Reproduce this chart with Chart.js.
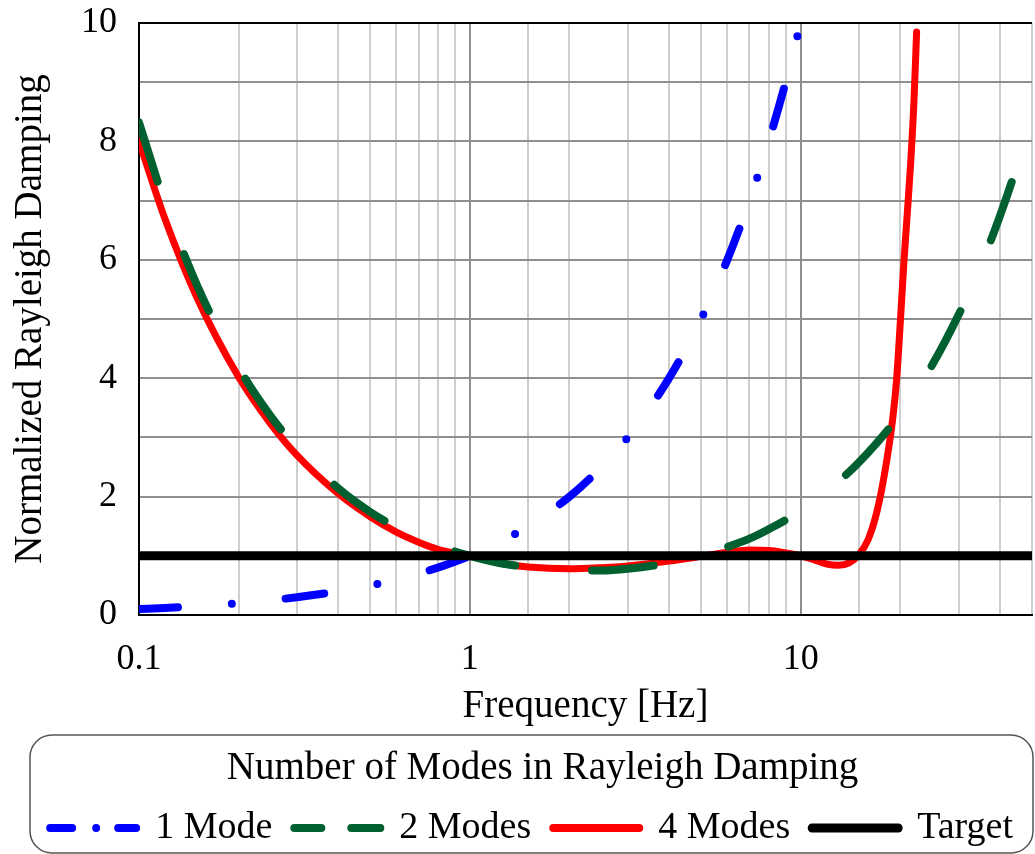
<!DOCTYPE html>
<html><head><meta charset="utf-8">
<script src="https://cdn.jsdelivr.net/npm/chart.js@4"></script>
<style>html,body{margin:0;padding:0;background:#fff}</style>
</head><body>
<canvas id="c" width="1035" height="854"></canvas>
<script>
// ---- data ----
const seriesLabels = ['1 Mode', '2 Modes', '4 Modes', 'Target'];

const mode1Freq = [0.1,0.12,0.15,0.2,0.25,0.3,0.4,0.5,0.6,0.7,0.8,0.9,1,1.2,1.5,2,2.5,3,4,5,6,7,8,9,10];
const mode1Vals = [0.1,0.12,0.15,0.2,0.25,0.3,0.4,0.5,0.6,0.7,0.8,0.9,1,1.2,1.5,2,2.5,3,4,5,6,7,8,9,10];

const mode2Freq = [0.1,0.12,0.15,0.2,0.25,0.3,0.4,0.5,0.6,0.7,0.8,1,1.25,1.5,2,2.5,3,4,5,6,7,8,10,12,15,20,25,30,35,40,45,50];
const mode2Vals = [8.32,6.94,5.56,4.18,3.36,2.82,2.14,1.74,1.48,1.30,1.17,1.00,0.87,0.81,0.75,0.75,0.78,0.88,1.01,1.15,1.29,1.45,1.76,2.09,2.58,3.40,4.23,5.07,5.90,6.74,7.58,8.42];

const mode4Freq = [0.1,0.12,0.15,0.2,0.25,0.3,0.4,0.5,0.6,0.7,0.8,1,1.25,1.5,2,2.5,3,4,5,6,7,8,9,10,11,12,13,14,15,16,17,18,19,19.5,20,20.5,21,21.5,22,22.4];
const mode4Vals = [8.00,6.68,5.35,4.02,3.23,2.70,2.05,1.66,1.40,1.23,1.11,1.00,0.87,0.81,0.78,0.80,0.83,0.91,0.99,1.06,1.10,1.09,1.05,1.00,0.93,0.86,0.84,0.88,1.02,1.28,1.75,2.45,3.35,4.00,4.95,5.95,6.80,7.65,8.70,9.85];

const targetFreq = [0.1, 50];
const targetVals = [1, 1];

const xLabeled = [0.1, 1, 10];

// ---- helpers ----
const pts = (xs, ys) => xs.map((x, i) => ({x, y: ys[i]}));
const isDecade = v => { const l = Math.log10(v); return Math.abs(l - Math.round(l)) < 1e-6; };

const SERIF = "'Liberation Serif', 'Times New Roman', serif";
Chart.defaults.font.family = SERIF;
Chart.defaults.color = '#000';

const PAD = { left: 20, right: 0, top: 23, bottom: -3 };
const PLOT_BOTTOM = 615;

const colors = ['#0000ff', '#006030', '#ff0000', '#000000'];
const legendDashes = [[22, 24, 0, 22, 20, 10], [27, 30, 29, 10], [], []];
const legendWidths = [8, 8, 8, 9];

const frame = {
  id: 'frame',
  beforeDatasetsDraw(chart) {
    const {ctx, chartArea: a} = chart;
    ctx.save();
    ctx.strokeStyle = '#000';
    ctx.lineWidth = 2;
    ctx.beginPath();
    ctx.moveTo(a.left - 1, a.top);
    ctx.lineTo(a.right, a.top);
    ctx.stroke();
    ctx.restore();
  },
  afterDraw(chart) {
    const ctx = chart.ctx;
    const x = 30, y = 735, w = 1003, h = 118, r = 22;
    ctx.save();
    ctx.strokeStyle = '#555';
    ctx.lineWidth = 1.5;
    ctx.beginPath();
    ctx.moveTo(x + r, y);
    ctx.lineTo(x + w - r, y);
    ctx.arcTo(x + w, y, x + w, y + r, r);
    ctx.lineTo(x + w, y + h - r);
    ctx.arcTo(x + w, y + h, x + w - r, y + h, r);
    ctx.lineTo(x + r, y + h);
    ctx.arcTo(x, y + h, x, y + h - r, r);
    ctx.lineTo(x, y + r);
    ctx.arcTo(x, y, x + r, y, r);
    ctx.closePath();
    ctx.stroke();
    ctx.restore();
  }
};

new Chart(document.getElementById('c'), {
  type: 'line',
  data: {
    datasets: [
      { label: seriesLabels[0], data: pts(mode1Freq, mode1Vals), borderColor: colors[0], backgroundColor: colors[0],
        borderWidth: 8, borderDash: [39, 54, 0, 54], borderCapStyle: 'round', cubicInterpolationMode: 'monotone', order: 1 },
      { label: seriesLabels[1], data: pts(mode2Freq, mode2Vals), borderColor: colors[1], backgroundColor: colors[1],
        borderWidth: 8, borderDash: [62, 77], borderCapStyle: 'round', cubicInterpolationMode: 'monotone', order: 2 },
      { label: seriesLabels[2], data: pts(mode4Freq, mode4Vals), borderColor: colors[2], backgroundColor: colors[2],
        borderWidth: 7, borderCapStyle: 'round', cubicInterpolationMode: 'monotone', order: 3 },
      { label: seriesLabels[3], data: pts(targetFreq, targetVals), borderColor: colors[3], backgroundColor: colors[3],
        borderWidth: 9, borderCapStyle: 'round', order: 0 }
    ]
  },
  options: {
    responsive: false,
    animation: false,
    devicePixelRatio: 1,
    layout: { padding: PAD },
    elements: { point: { radius: 0, hoverRadius: 0 } },
    plugins: {
      tooltip: { enabled: false },
      legend: {
        position: 'bottom',
        align: 'end',
        title: { display: true, text: 'Number of Modes in Rayleigh Damping', color: '#000',
                 font: { size: 39, family: SERIF }, padding: { top: 6, bottom: -9 } },
        labels: {
          usePointStyle: true, pointStyle: 'line', pointStyleWidth: 86, padding: 22,
          color: '#000', font: { size: 38, family: SERIF },
          generateLabels(chart) {
            return chart.data.datasets.map((ds, i) => ({
              text: ds.label, fillStyle: ds.borderColor, strokeStyle: ds.borderColor, fontColor: '#000',
              lineWidth: legendWidths[i], lineDash: legendDashes[i], lineDashOffset: 0,
              lineCap: 'round', lineJoin: 'round', pointStyle: 'line', rotation: 0,
              hidden: false, datasetIndex: i
            }));
          }
        }
      }
    },
    scales: {
      x: {
        type: 'logarithmic', min: 0.1, max: 50,
        afterFit(scale) {
          scale.paddingLeft = 0;
          scale.paddingRight = 3;
          scale.height = scale.chart.height - PAD.bottom - scale.chart.legend.height - PLOT_BOTTOM;
        },
        grid: {
          drawTicks: false,
          color: c => (c.tick && isDecade(c.tick.value)) ? '#8f8f8f' : '#cfcfcf',
          lineWidth: 2
        },
        border: { color: '#000', width: 2 },
        ticks: {
          autoSkip: false, maxRotation: 0, padding: 23, color: '#000', font: { size: 36, family: SERIF },
          callback(v) { return xLabeled.some(t => Math.abs(t - v) < 1e-9) ? String(v) : ''; }
        },
        title: { display: true, text: 'Frequency [Hz]', color: '#000', font: { size: 39, family: SERIF },
                 padding: { top: 0, bottom: 13 } }
      },
      y: {
        min: 0, max: 10,
        afterFit(scale) {
          scale.paddingTop = 0;
          scale.paddingBottom = 0;
          scale.width = 139 - PAD.left;
        },
        grid: { drawTicks: false, color: '#8f8f8f', lineWidth: 2 },
        border: { color: '#000', width: 2 },
        ticks: {
          stepSize: 1, autoSkip: false, padding: 22, color: '#000', font: { size: 36, family: SERIF },
          callback(v) { return v % 2 === 0 ? String(v) : ''; }
        },
        title: { display: true, text: 'Normalized Rayleigh Damping', color: '#000', font: { size: 39, family: SERIF },
                 padding: { top: -13, bottom: 0 } }
      }
    }
  },
  plugins: [frame]
});
</script>
</body></html>
